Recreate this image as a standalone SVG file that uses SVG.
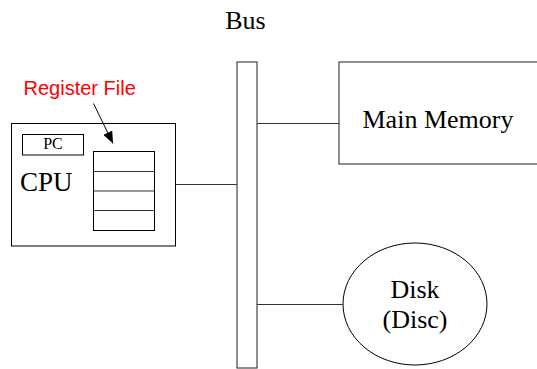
<svg xmlns="http://www.w3.org/2000/svg" width="537" height="369" viewBox="0 0 537 369">
<defs>
<style>
.box{fill:#fff;stroke:#000;stroke-width:1}
.gbox{fill:#fff;stroke:#444;stroke-width:1.2}
.conn{stroke:#333;stroke-width:1;fill:none}
.t{font-family:"Liberation Serif","Times New Roman",serif;fill:#000}
.lbl{font-family:"Liberation Sans",Arial,sans-serif;fill:#ff0000}
</style>
<marker id="ah" markerWidth="12" markerHeight="10" refX="12" refY="5" orient="auto" markerUnits="userSpaceOnUse">
<path d="M0,0 L12,5 L0,10 Z" fill="#000"/>
</marker>
</defs>
<rect width="537" height="369" fill="#fff"/>
<g id="bus">
<text class="t" x="245.5" y="29" font-size="26" text-anchor="middle">Bus</text>
<rect class="gbox" x="237" y="62" width="20" height="306"/>
</g>
<g id="cpu">
<rect class="box" x="11.5" y="123.5" width="164" height="122.5"/>
<text class="t" x="20" y="190.5" font-size="27">CPU</text>
</g>
<g id="pc">
<rect class="box" x="22.5" y="134.5" width="61" height="20.5"/>
<text class="t" x="53" y="149" font-size="16" text-anchor="middle">PC</text>
</g>
<g id="register-file">
<rect class="box" x="93.5" y="151.5" width="61" height="79"/>
<line class="conn" x1="93.5" y1="171.5" x2="154.5" y2="171.5"/>
<line class="conn" x1="93.5" y1="191" x2="154.5" y2="191"/>
<line class="conn" x1="93.5" y1="210.5" x2="154.5" y2="210.5"/>
<text class="lbl" x="23.5" y="95" font-size="20">Register File</text>
</g>
<g id="main-memory">
<rect class="gbox" x="339" y="62" width="210" height="102"/>
<text class="t" x="362.5" y="128" font-size="26">Main Memory</text>
</g>
<g id="disk">
<ellipse cx="415" cy="304" rx="72" ry="61" fill="#fff" stroke="#000" stroke-width="1"/>
<text class="t" x="415" y="298" font-size="26" text-anchor="middle">Disk</text>
<text class="t" x="415" y="328" font-size="26" text-anchor="middle">(Disc)</text>
</g>
<g id="connectors">
<line class="conn" x1="175.5" y1="184.5" x2="237" y2="184.5"/>
<line class="conn" x1="257" y1="123.5" x2="339" y2="123.5"/>
<line class="conn" x1="257" y1="304.5" x2="343" y2="304.5"/>
<line x1="93.5" y1="103.5" x2="113" y2="143.5" stroke="#000" stroke-width="1" marker-end="url(#ah)"/>
</g>
</svg>
